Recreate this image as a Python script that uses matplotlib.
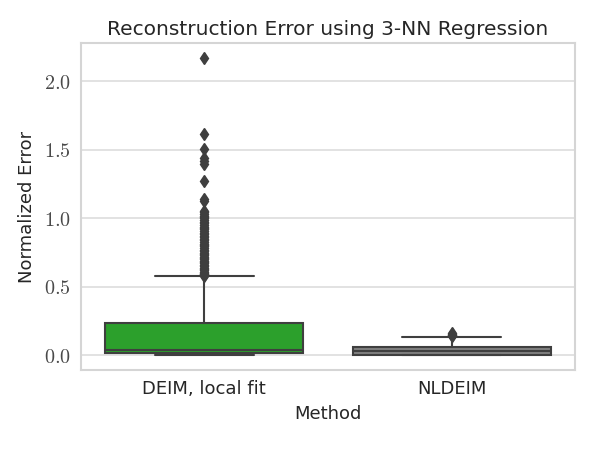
import numpy as np
import matplotlib
matplotlib.use("Agg")
import matplotlib.pyplot as plt
import seaborn as sns

methods = ["DEIM, local fit", "NLDEIM"]
box_colors = ["#2ca02c", "#808080"]

# box statistics
q1 = [0.017, 0.005]
medians = [0.036, 0.034]
q3 = [0.238, 0.061]
whisk_lo = [0.004, 0.003]
whisk_hi = [0.575, 0.134]

deim_fliers = [2.172, 1.614, 1.504, 1.444, 1.418, 1.395, 1.269, 1.140, 1.128,
               1.055, 1.045, 1.035, 1.02, 1.01, 1.00, 0.99, 0.975, 0.965,
               0.95, 0.94, 0.93, 0.92, 0.905, 0.895, 0.885, 0.87, 0.86, 0.85,
               0.84, 0.83, 0.815, 0.805, 0.795, 0.785, 0.77, 0.76, 0.75,
               0.74, 0.73, 0.72, 0.71, 0.70, 0.69, 0.68, 0.67, 0.66, 0.65,
               0.64, 0.63, 0.62, 0.61, 0.60, 0.595, 0.59, 0.585, 0.58]
nldeim_fliers = [0.138, 0.145, 0.150, 0.156, 0.160]
fliers = [deim_fliers, nldeim_fliers]

sns.set_style("whitegrid")
plt.rcParams['font.family'] = ['DejaVu Sans']
plt.rcParams['mathtext.fontset'] = 'cm'

fig = plt.figure(figsize=(5.98, 4.49), dpi=100)
ax = fig.add_axes([0.135, 0.176, 0.827, 0.728])

stats = []
for i in range(len(methods)):
    stats.append(dict(med=medians[i], q1=q1[i], q3=q3[i],
                      whislo=whisk_lo[i], whishi=whisk_hi[i],
                      fliers=fliers[i], label=methods[i]))

line_col = "#3f3f3f"
bp = ax.bxp(stats, positions=[0, 1], widths=0.8, patch_artist=True,
            boxprops=dict(edgecolor=line_col, linewidth=1.5),
            medianprops=dict(color=line_col, linewidth=1.5),
            whiskerprops=dict(color=line_col, linewidth=1.5),
            capprops=dict(color=line_col, linewidth=1.5),
            capwidths=0.4,
            flierprops=dict(marker='d', markersize=6, markerfacecolor=line_col,
                            markeredgecolor=line_col))
for patch, c in zip(bp['boxes'], box_colors):
    patch.set_facecolor(c)

ax.set_xlim(-0.5, 1.5)
ax.set_ylim(-0.108, 2.28)
ax.set_yticks([0.0, 0.5, 1.0, 1.5, 2.0])
ax.set_yticklabels(["$%.1f$" % v for v in [0.0, 0.5, 1.0, 1.5, 2.0]],
                   fontsize=14.5, color="#4a4a4a")
ax.set_xticks([0, 1])
ax.set_xticklabels(methods, fontsize=13, color="#262626")
ax.xaxis.grid(False)
ax.yaxis.grid(True, color="#dddddd", linewidth=1.2)
for s in ax.spines.values():
    s.set_color("#d5d5d5")
    s.set_linewidth(1.5)
ax.tick_params(length=0, pad=7)

ax.set_title("Reconstruction Error using 3-NN Regression", fontsize=14.5,
             color="#262626", pad=6)
ax.set_xlabel("Method", fontsize=13, color="#262626", labelpad=5)
ax.set_ylabel("Normalized Error", fontsize=13, color="#262626", labelpad=6)

fig.savefig("out.png", dpi=100)
